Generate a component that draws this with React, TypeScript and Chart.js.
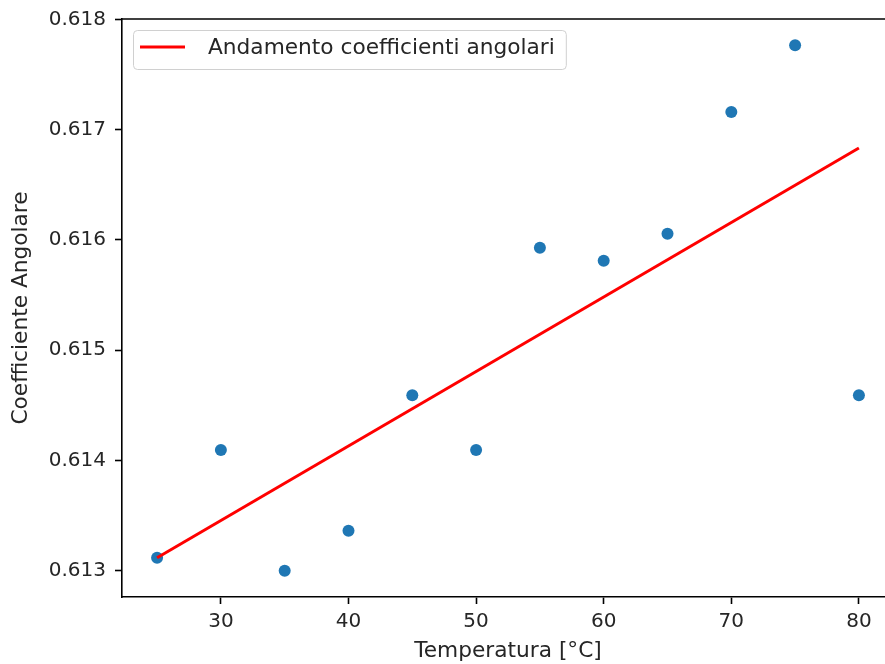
import React, { useEffect, useRef } from "react";
import { Chart, registerables } from "chart.js";

Chart.register(...registerables);

const temperatures = [25, 30, 35, 40, 45, 50, 55, 60, 65, 70, 75, 80];
const coefficients = [0.613118, 0.614094, 0.613, 0.613362, 0.614591, 0.614094, 0.615929, 0.615812, 0.616056, 0.617159, 0.617765, 0.614591];
const fitX = [25, 80];
const fitY = [0.613118, 0.616834];
const xTicks = [30, 40, 50, 60, 70, 80];
const yTicks = [0.613, 0.614, 0.615, 0.616, 0.617, 0.618];
const legendLabel = "Andamento coefficienti angolari";
const xTitle = "Temperatura [°C]";
const yTitle = "Coefficiente Angolare";

const FONT = "'DejaVu Sans', sans-serif";
const TEXT = "#262626";
const FS = 20;
const FL = 21.7;

const framePlugin = {
  id: "frame",
  afterDraw(chart: any) {
    const { ctx, chartArea } = chart;
    ctx.save();
    ctx.strokeStyle = "#000";
    ctx.lineWidth = 1.6;
    ctx.beginPath();
    ctx.moveTo(chartArea.left, chartArea.top);
    ctx.lineTo(chartArea.right, chartArea.top);
    ctx.stroke();
    // legend
    const x0 = chartArea.left + 11;
    const y0 = chartArea.top + 11;
    ctx.font = `${FL}px ${FONT}`;
    const tw = ctx.measureText(legendLabel).width;
    const w = 75 + tw + 11;
    const h = 39;
    ctx.fillStyle = "rgba(255,255,255,0.8)";
    ctx.strokeStyle = "#d0d0d0";
    ctx.lineWidth = 1;
    ctx.beginPath();
    (ctx as any).roundRect(x0 + 0.5, y0 + 0.5, w, h, 4);
    ctx.fill();
    ctx.stroke();
    ctx.strokeStyle = "red";
    ctx.lineWidth = 3;
    ctx.beginPath();
    ctx.moveTo(x0 + 7, y0 + 17);
    ctx.lineTo(x0 + 52, y0 + 17);
    ctx.stroke();
    ctx.fillStyle = TEXT;
    ctx.textBaseline = "middle";
    ctx.textAlign = "left";
    ctx.fillText(legendLabel, x0 + 75, y0 + 18);
    ctx.restore();
  },
};

export default function App() {
  const ref = useRef<HTMLCanvasElement>(null);
  useEffect(() => {
    if (!ref.current) return;
    const chart = new Chart(ref.current, {
      type: "scatter",
      data: {
        datasets: [
          {
            type: "line",
            label: legendLabel,
            data: fitX.map((x, i) => ({ x, y: fitY[i] })),
            borderColor: "red",
            borderWidth: 3,
            pointRadius: 0,
            fill: false,
            order: 0,
          } as any,
          {
            label: "dati",
            data: temperatures.map((x, i) => ({ x, y: coefficients[i] })),
            backgroundColor: "#1f77b4",
            borderColor: "#1f77b4",
            borderWidth: 0,
            pointRadius: 6,
            order: 1,
          },
        ],
      },
      options: {
        responsive: false,
        animation: false,
        devicePixelRatio: 1,
        layout: { padding: { top: 19, right: 5, left: 0, bottom: 0 } },
        plugins: { legend: { display: false }, tooltip: { enabled: false } },
        scales: {
          x: {
            type: "linear",
            min: 22.25,
            max: 82.75,
            afterBuildTicks: (s: any) => {
              s.ticks = xTicks.map((v) => ({ value: v }));
            },
            afterFit: (s: any) => {
              s.height = 67;
              s.paddingLeft = 0;
              s.paddingRight = 0;
            },
            grid: { drawOnChartArea: false, drawTicks: true, tickLength: 7, color: "#000", tickWidth: 1.6 },
            border: { display: true, color: "#000", width: 1.6 },
            ticks: { font: { family: FONT, size: FS }, color: TEXT, padding: 6, maxRotation: 0 },
            title: { display: true, text: xTitle, font: { family: FONT, size: FL }, color: TEXT, padding: { top: 0, bottom: 0 } },
          },
          y: {
            type: "linear",
            min: 0.612762,
            max: 0.618003,
            afterBuildTicks: (s: any) => {
              s.ticks = yTicks.map((v) => ({ value: v }));
            },
            afterFit: (s: any) => {
              s.width = 122;
              s.paddingTop = 0;
              s.paddingBottom = 0;
            },
            grid: { drawOnChartArea: false, drawTicks: true, tickLength: 7, color: "#000", tickWidth: 1.6 },
            border: { display: true, color: "#000", width: 1.6 },
            ticks: {
              font: { family: FONT, size: FS },
              color: TEXT,
              padding: 9,
              callback: (v: any) => Number(v).toFixed(3),
            },
            title: { display: true, text: yTitle, font: { family: FONT, size: FL }, color: TEXT, padding: { top: 8, bottom: 4 } },
          },
        },
      },
      plugins: [framePlugin],
    });
    return () => chart.destroy();
  }, []);
  return (
    <div style={{ position: "fixed", left: 0, top: 0, width: 885, height: 664, overflow: "hidden", background: "#fff" }}>
      <canvas ref={ref} width={900} height={664} />
    </div>
  );
}
